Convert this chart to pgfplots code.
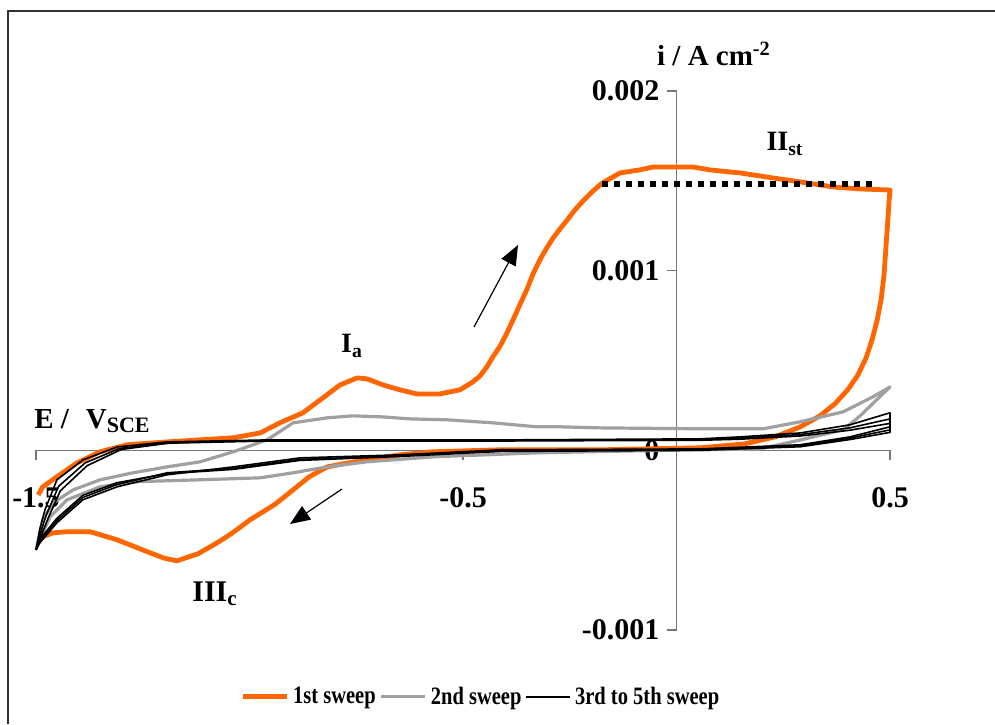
\documentclass[border=0pt]{standalone}
\usepackage{fontspec}
\setmainfont{Liberation Serif}
\newfontfamily\legendfont[FakeStretch=0.82]{Liberation Serif}
\usepackage{pgfplots}
\pgfplotsset{compat=1.18}
\usetikzlibrary{arrows.meta}
\definecolor{cvorange}{RGB}{255,102,0}
\definecolor{cvgray}{RGB}{160,160,160}
\definecolor{axgray}{RGB}{118,118,118}
\definecolor{framegray}{RGB}{50,50,50}
\begin{document}
\begin{tikzpicture}
\begin{axis}[
  at={(18pt,-315pt)}, anchor=south west,
  scale only axis, width=427pt, height=269.5pt,
  xmin=-1.5, xmax=0.5, ymin=-0.001, ymax=0.002,
  clip=false,
  axis lines=middle,
  axis line style={-, color=axgray, line width=0.7pt},
  xtick={-1.5,-0.5,0.5}, xticklabels={-1.5,-0.5,0.5},
  ytick={-0.001,0,0.001,0.002}, yticklabels={-0.001,0,0.001,0.002},
  scaled y ticks=false, scaled x ticks=false,
  hide obscured y ticks=false, hide obscured x ticks=false,
  tick align=outside, major tick length=5pt,
  tick style={color=axgray, line width=0.7pt},
  ticklabel style={font=\fontsize{15}{18}\selectfont\bfseries},
  xticklabel style={yshift=-10pt},
  legend style={at={(0.522,-0.124)}, anchor=center, draw=none, fill=none,
    font=\legendfont\fontsize{12.5}{15}\selectfont\bfseries,
    /tikz/every odd column/.append style={column sep=0pt},
    /tikz/every even column/.append style={column sep=0pt}},
  legend columns=3,
  legend image code/.code={\draw[#1] (0pt,0pt) -- (22pt,0pt);},
  line join=round,
]
% 1st sweep
\addplot[cvorange, line width=2.4pt] coordinates {
(-1.495,-0.000248) (-1.484,-0.000203) (-1.451,-0.000147) (-1.404,-0.000070)
(-1.350,-0.000008) (-1.287,0.000031) (-1.193,0.000047) (-1.038,0.000070)
(-0.975,0.000097) (-0.929,0.000153) (-0.875,0.000209) (-0.828,0.000292)
(-0.788,0.000364) (-0.748,0.000403) (-0.725,0.000398) (-0.687,0.000364)
(-0.648,0.000337) (-0.608,0.000314) (-0.554,0.000314) (-0.507,0.000337)
(-0.477,0.000381) (-0.460,0.000414) (-0.444,0.000465) (-0.430,0.000520)
(-0.413,0.000581) (-0.397,0.000654) (-0.383,0.000726) (-0.367,0.000809)
(-0.350,0.000898) (-0.336,0.000982) (-0.320,0.001060) (-0.304,0.001126)
(-0.289,0.001182) (-0.273,0.001232) (-0.256,0.001282) (-0.238,0.001338)
(-0.219,0.001388) (-0.198,0.001438) (-0.174,0.001488) (-0.132,0.001544)
(-0.086,0.001561) (-0.055,0.001577) (0.039,0.001577) (0.078,0.001561)
(0.149,0.001544) (0.226,0.001516) (0.290,0.001494) (0.367,0.001466)
(0.430,0.001455) (0.500,0.001449) (0.498,0.001394) (0.495,0.001282)
(0.490,0.001115) (0.486,0.000976) (0.479,0.000837) (0.470,0.000726)
(0.458,0.000615) (0.444,0.000515) (0.425,0.000420) (0.401,0.000337)
(0.371,0.000259) (0.336,0.000192) (0.290,0.000131) (0.231,0.000075)
(0.160,0.000036) (0.055,0.000014) (-0.179,0.000003) (-0.413,0.000003)
(-0.570,-0.000008) (-0.648,-0.000025) (-0.725,-0.000053) (-0.780,-0.000075)
(-0.818,-0.000092) (-0.860,-0.000147) (-0.898,-0.000220) (-0.940,-0.000300)
(-0.999,-0.000387) (-1.040,-0.000460) (-1.076,-0.000515) (-1.120,-0.000575)
(-1.170,-0.000615) (-1.200,-0.000600) (-1.233,-0.000570) (-1.310,-0.000498)
(-1.373,-0.000453) (-1.427,-0.000453) (-1.460,-0.000459) (-1.484,-0.000481)
};
\addlegendentry{1st sweep}
% 2nd sweep
\addplot[cvgray, line width=1.6pt] coordinates {
(-1.500,-0.000554) (-1.484,-0.000387) (-1.460,-0.000292) (-1.413,-0.000220)
(-1.350,-0.000164) (-1.273,-0.000125) (-1.193,-0.000092) (-1.116,-0.000064)
(-1.038,-0.000008) (-0.959,0.000058) (-0.898,0.000153) (-0.818,0.000181)
(-0.758,0.000192) (-0.687,0.000186) (-0.624,0.000175) (-0.538,0.000170)
(-0.468,0.000159) (-0.430,0.000153) (-0.327,0.000131) (-0.273,0.000131)
(-0.179,0.000125) (0.055,0.000120) (0.203,0.000120) (0.290,0.000159)
(0.390,0.000214) (0.460,0.000298) (0.500,0.000353) (0.476,0.000298)
(0.430,0.000192) (0.390,0.000114) (0.290,0.000058) (0.196,0.000008)
(0.055,0.000003) (-0.102,-0.000003) (-0.327,-0.000014) (-0.570,-0.000036)
(-0.725,-0.000064) (-0.818,-0.000092) (-0.898,-0.000125) (-0.975,-0.000153)
(-1.116,-0.000164) (-1.273,-0.000175) (-1.350,-0.000203) (-1.427,-0.000275)
(-1.467,-0.000370) (-1.495,-0.000515) (-1.500,-0.000554)
};
\addlegendentry{2nd sweep}
% 3rd to 5th sweeps
\addplot[black, line width=0.8pt] coordinates {
(-1.500,-0.000554) (-1.491,-0.000437) (-1.479,-0.000331) (-1.451,-0.000164)
(-1.390,-0.000053) (-1.310,0.000019) (-1.193,0.000047) (-0.959,0.000058)
(-0.413,0.000058) (0.055,0.000064) (0.149,0.000075) (0.290,0.000097)
(0.406,0.000142) (0.500,0.000209) (0.500,0.000131) (0.406,0.000075)
(0.290,0.000031) (0.055,0.000008) (-0.413,0.000003) (-0.648,-0.000025)
(-0.882,-0.000042) (-1.038,-0.000092) (-1.193,-0.000136) (-1.310,-0.000203)
(-1.390,-0.000275) (-1.451,-0.000403) (-1.491,-0.000515) (-1.500,-0.000554)
};
\addlegendentry{3rd to 5th sweep}
\addplot[black, line width=0.8pt, forget plot] coordinates {
(-1.500,-0.000554) (-1.489,-0.000455) (-1.476,-0.000360) (-1.447,-0.000200)
(-1.385,-0.000070) (-1.305,0.000010) (-1.190,0.000042) (-0.959,0.000055)
(-0.413,0.000055) (0.055,0.000060) (0.149,0.000068) (0.290,0.000088)
(0.406,0.000125) (0.500,0.000175) (0.500,0.000114) (0.406,0.000068)
(0.290,0.000025) (0.055,0.000005) (-0.413,-0.000003) (-0.648,-0.000030)
(-0.882,-0.000050) (-1.038,-0.000100) (-1.193,-0.000125) (-1.310,-0.000190)
(-1.390,-0.000262) (-1.451,-0.000390) (-1.491,-0.000505) (-1.500,-0.000554)
};
\addplot[black, line width=0.8pt, forget plot] coordinates {
(-1.500,-0.000554) (-1.487,-0.000470) (-1.472,-0.000380) (-1.443,-0.000225)
(-1.380,-0.000085) (-1.300,0.000005) (-1.190,0.000040) (-0.959,0.000052)
(-0.413,0.000052) (0.055,0.000056) (0.149,0.000062) (0.290,0.000080)
(0.406,0.000112) (0.500,0.000150) (0.500,0.000100) (0.406,0.000060)
(0.290,0.000020) (0.055,0.000000) (-0.413,-0.000006) (-0.648,-0.000034)
(-0.882,-0.000056) (-1.038,-0.000106) (-1.193,-0.000130) (-1.310,-0.000180)
(-1.390,-0.000250) (-1.451,-0.000378) (-1.491,-0.000495) (-1.500,-0.000554)
};
% steady-state level
\addplot[black, line width=2.7pt, dash pattern=on 2.7pt off 3.3pt, forget plot]
  coordinates {(-0.174,0.001483) (0.458,0.001483)};
\end{axis}
% outer frame (left and top edges visible)
\draw[framegray, line width=1pt] (4pt,-362pt) -- (4pt,-5.5pt) -- (497.5pt,-5.5pt);
% annotations
\node[font=\fontsize{14.5}{16}\selectfont\bfseries] at (357pt,-27pt) {i / A cm\textsuperscript{-2}};
\node[font=\fontsize{14.5}{16}\selectfont\bfseries] at (46pt,-210.5pt) {E /\,\, V\raisebox{-0.35ex}{\fontsize{11}{12}\selectfont SCE}};
\node[font=\fontsize{14}{16}\selectfont\bfseries] at (176pt,-173pt) {I\textsubscript{a}};
\node[font=\fontsize{14}{16}\selectfont\bfseries] at (392.5pt,-72pt) {II\textsubscript{st}};
\node[font=\fontsize{15}{17}\selectfont\bfseries] at (107.5pt,-297pt) {III\textsubscript{c}};
\draw[black, line width=0.6pt, -{Triangle[length=10pt,width=8pt]}] (237pt,-163.5pt) -- (259pt,-122.5pt);
\draw[black, line width=0.6pt, -{Triangle[length=10pt,width=8pt]}] (171pt,-244.5pt) -- (145pt,-262pt);
\pgfresetboundingbox
\useasboundingbox (0,0) rectangle (497.5pt,-362pt);
\end{tikzpicture}
\end{document}
